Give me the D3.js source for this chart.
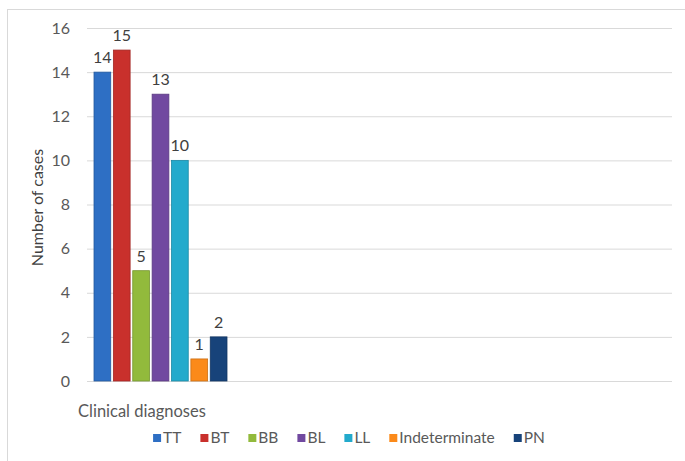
<!DOCTYPE html>
<html>
<head>
<meta charset="utf-8">
<script src="https://cdn.jsdelivr.net/npm/d3@7"></script>
<style>
  html, body { margin: 0; padding: 0; background: #fff; }
  svg { display: block; }
  text { font-family: Lato, "Open Sans", sans-serif; }
</style>
</head>
<body>
<svg id="chart" width="685" height="461"></svg>
<script>
// ---- data ----
const categories = ["Clinical diagnoses"];
const series = ["TT", "BT", "BB", "BL", "LL", "Indeterminate", "PN"];
const values = [14, 15, 5, 13, 10, 1, 2];
const colors = ["#2E6FC4", "#C9302C", "#92BA3C", "#7149A0", "#23AACC", "#FB8A1A", "#17437A"];
const yTicks = [0, 2, 4, 6, 8, 10, 12, 14, 16];

// ---- layout ----
const W = 685, H = 461;
const plot = { left: 87, right: 672, top: 28, bottom: 381 };
const svg = d3.select("#chart");

// chart border
svg.append("rect")
  .attr("x", 7.5).attr("y", 9.5)
  .attr("width", 720).attr("height", 520)
  .attr("fill", "#fff").attr("stroke", "#d9d9d9").attr("stroke-width", 1);

const y = d3.scaleLinear().domain([0, 16]).range([plot.bottom, plot.top]);
const x0 = d3.scaleBand().domain(categories).range([plot.left + 7, plot.left + 140]);
const x1 = d3.scaleBand().domain(series).range([0, x0.bandwidth()]).paddingInner(0.136).paddingOuter(0);

// gridlines
const yAxis = d3.axisLeft(y).tickValues(yTicks).tickSize(-(plot.right - plot.left)).tickPadding(17).tickFormat(d3.format("d"));
const gAxis = svg.append("g").attr("transform", `translate(${plot.left},0)`).call(yAxis);
gAxis.select(".domain").remove();
gAxis.selectAll(".tick line").attr("stroke", "#d9d9d9").attr("stroke-width", 1);
gAxis.selectAll(".tick text").attr("fill", "#595959").style("font-size", "16px").style("font-family", "Lato, sans-serif");

// bars
const g = svg.append("g");
const data = series.map((s, i) => ({ s, v: values[i], c: colors[i], cat: categories[0] }));
g.selectAll("rect.bar").data(data).enter().append("rect")
  .attr("class", "bar")
  .attr("x", d => x0(d.cat) + x1(d.s))
  .attr("y", d => y(d.v))
  .attr("width", x1.bandwidth())
  .attr("height", d => y(0) - y(d.v))
  .attr("fill", d => d.c)
  .attr("stroke", d => d3.color(d.c).darker(0.6))
  .attr("stroke-width", 0.8);

// value labels
g.selectAll("text.lbl").data(data).enter().append("text")
  .attr("class", "lbl")
  .attr("x", d => x0(d.cat) + x1(d.s) + x1.bandwidth() / 2)
  .attr("y", d => y(d.v) - 9)
  .attr("text-anchor", "middle")
  .attr("fill", "#404040")
  .style("font-size", "16px")
  .text(d => d.v);

// axis titles
svg.append("text")
  .attr("transform", `translate(43,${(plot.top + plot.bottom) / 2 + 3}) rotate(-90)`)
  .attr("text-anchor", "middle")
  .attr("fill", "#404040")
  .style("font-size", "16px")
  .text("Number of cases");

svg.append("text")
  .attr("x", 78).attr("y", 417)
  .attr("fill", "#595959")
  .style("font-size", "16.5px")
  .text(categories[0]);

// legend
const lg = svg.append("g");
let cx = 0;
series.forEach((s, i) => {
  const item = lg.append("g").attr("transform", `translate(${cx},0)`);
  item.append("rect").attr("x", 0).attr("y", -9).attr("width", 8).attr("height", 8).attr("fill", colors[i]);
  const t = item.append("text").attr("x", 10).attr("y", 0).attr("fill", "#595959").style("font-size", "15.5px").text(s);
  cx += 10 + t.node().getComputedTextLength() + 19;
});
const legendWidth = cx - 19;
lg.attr("transform", `translate(${349 - legendWidth / 2},443)`);
</script>
</body>
</html>
